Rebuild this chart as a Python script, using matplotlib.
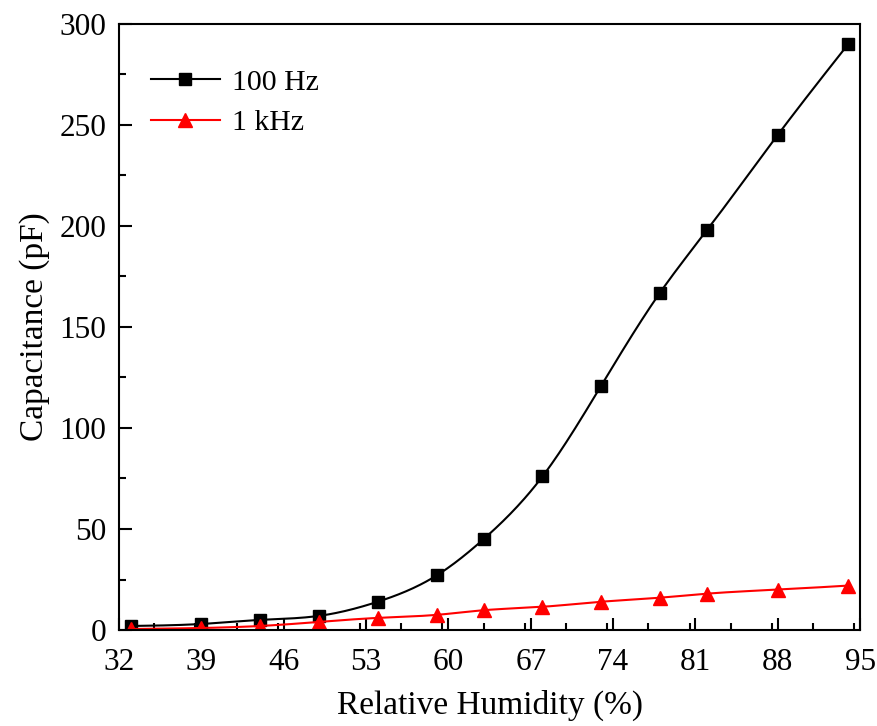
import numpy as np
import matplotlib.pyplot as plt
from matplotlib.ticker import MultipleLocator

plt.rcParams['font.family'] = ['Liberation Serif', 'DejaVu Serif']
plt.rcParams['mathtext.fontset'] = 'stix'

humidity = [33, 39, 44, 49, 54, 59, 63, 68, 73, 78, 82, 88, 94]
cap_100hz = [2, 3, 5, 7, 14, 27, 45, 76, 121, 167, 198, 245, 290]
cap_1khz = [0.5, 1, 2, 4, 6, 7.5, 9.8, 11.5, 14, 16, 18, 20, 22]


def natural_spline(x, y, n=400):
    # plain natural cubic spline through the measured points
    x = np.asarray(x, float)
    y = np.asarray(y, float)
    k = len(x)
    h = np.diff(x)
    A = np.zeros((k, k))
    b = np.zeros(k)
    A[0, 0] = A[-1, -1] = 1
    for i in range(1, k - 1):
        A[i, i - 1] = h[i - 1]
        A[i, i] = 2 * (h[i - 1] + h[i])
        A[i, i + 1] = h[i]
        b[i] = 6 * ((y[i + 1] - y[i]) / h[i] - (y[i] - y[i - 1]) / h[i - 1])
    m = np.linalg.solve(A, b)
    xs = np.linspace(x[0], x[-1], n)
    idx = np.clip(np.searchsorted(x, xs) - 1, 0, k - 2)
    x0, x1 = x[idx], x[idx + 1]
    hh = x1 - x0
    t0, t1 = x1 - xs, xs - x0
    ys = (m[idx] * t0**3 + m[idx + 1] * t1**3) / (6 * hh) \
        + (y[idx] / hh - m[idx] * hh / 6) * t0 \
        + (y[idx + 1] / hh - m[idx + 1] * hh / 6) * t1
    return xs, ys


fig = plt.figure(figsize=(8.77, 7.26), dpi=100)
ax = fig.add_axes([0.1357, 0.1322, 0.845, 0.835])

for xv, yv, col, mk, ms, lab in [
        (humidity, cap_100hz, 'black', 's', 8.5, '100 Hz'),
        (humidity, cap_1khz, 'red', '^', 10.5, '1 kHz')]:
    xs, ys = natural_spline(xv, yv)
    ax.plot(xs, ys, color=col, lw=1.5)
    ax.plot(xv, yv, ls='none', marker=mk, ms=ms, color=col)
    ax.plot([], [], color=col, lw=1.5, marker=mk, ms=ms, label=lab)

ax.set_xlim(32, 95)
ax.set_ylim(0, 300)
ax.xaxis.set_major_locator(MultipleLocator(7))
ax.xaxis.set_minor_locator(MultipleLocator(3.5))
ax.yaxis.set_major_locator(MultipleLocator(50))
ax.yaxis.set_minor_locator(MultipleLocator(25))
ax.set_xticks(np.arange(32, 96, 7))

ax.tick_params(which='both', direction='in', labelsize=22.5, width=1.5)
ax.tick_params(which='major', length=9)
ax.tick_params(axis='x', which='major', pad=13)
ax.tick_params(axis='y', which='major', pad=9)
ax.tick_params(which='minor', length=5)
for s in ax.spines.values():
    s.set_linewidth(1.5)

ax.set_xlabel('Relative Humidity (%)', fontsize=24, labelpad=9)
ax.set_ylabel('Capacitance (pF)', fontsize=24, labelpad=7)

ax.legend(loc='upper left', bbox_to_anchor=(0.015, 0.96), frameon=False,
          fontsize=21.5, handlelength=2.3, handletextpad=0.4,
          labelspacing=0.45, borderaxespad=0.3)

fig.savefig('out.png', dpi=100)
